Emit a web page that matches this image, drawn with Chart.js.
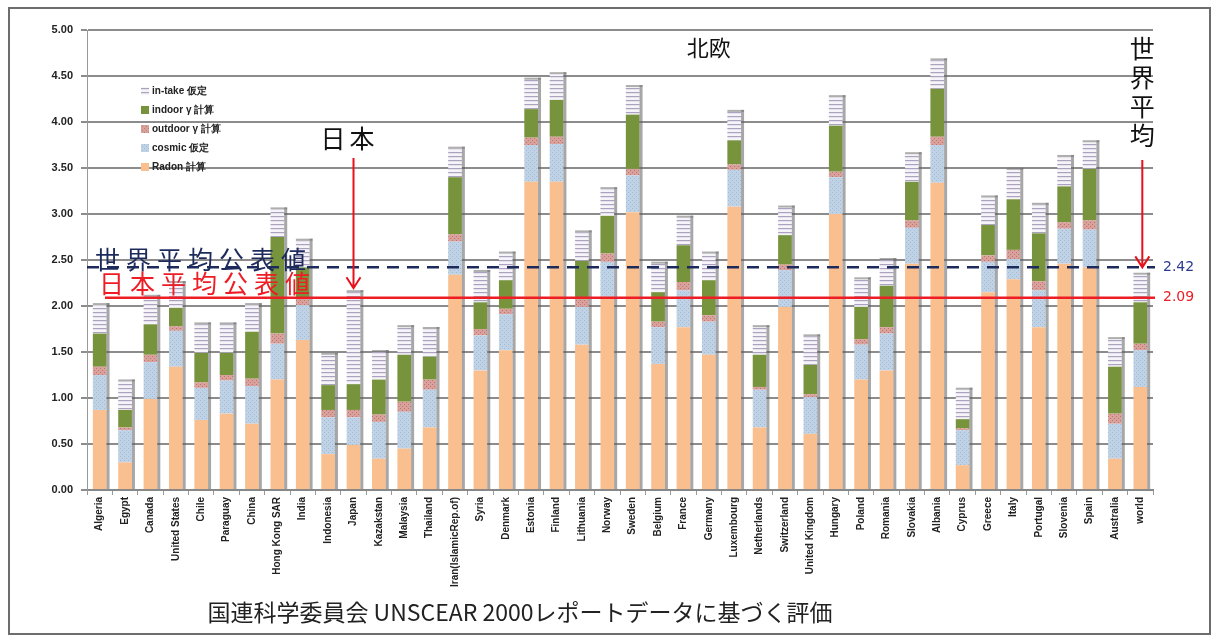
<!DOCTYPE html>
<html>
<head>
<meta charset="utf-8">
<script src="https://cdn.jsdelivr.net/npm/chart.js@4.4.1/dist/chart.umd.min.js"></script>
<style>
  body { margin: 0; background: #fff; }
  #frame { position: absolute; left: 8px; top: 7px; width: 1199px; height: 624px; border: 2px solid #6d6d6d; }
  #wrap { position: absolute; left: 0; top: 0; width: 1217px; height: 600px; }
  #caption { position: absolute; left: 0; top: 594px; width: 1040px; text-align: center;
    font: 23px "Noto Sans CJK JP", sans-serif; color: #222; }
</style>
</head>
<body>
<div id="frame"></div>
<div id="wrap"><canvas id="chart"></canvas></div>
<div id="caption">国連科学委員会 UNSCEAR 2000レポートデータに基づく評価</div>
<script>
// annual dose by source (mSv)
const countries = ["Algeria", "Egypt", "Canada", "United States", "Chile", "Paraguay", "China",
  "Hong Kong SAR", "India", "Indonesia", "Japan", "Kazakstan", "Malaysia", "Thailand",
  "Iran(IslamicRep.of)", "Syria", "Denmark", "Estonia", "Finland", "Lithuania", "Norway",
  "Sweden", "Belgium", "France", "Germany", "Luxembourg", "Netherlands", "Switzerland",
  "United Kingdom", "Hungary", "Poland", "Romania", "Slovakia", "Albania", "Cyprus",
  "Greece", "Italy", "Portugal", "Slovenia", "Spain", "Australia", "world"];

const radon = [0.87, 0.30, 0.99, 1.34, 0.76, 0.83, 0.72, 1.20, 1.63, 0.39, 0.49, 0.34, 0.45, 0.68,
  2.34, 1.30, 1.52, 3.35, 3.35, 1.58, 2.10, 3.02, 1.37, 1.77, 1.47, 3.08, 0.68, 1.99,
  0.61, 3.00, 1.20, 1.30, 2.46, 3.34, 0.27, 2.15, 2.29, 1.77, 2.46, 2.42, 0.34, 1.12];
const cosmic = [0.38, 0.35, 0.40, 0.39, 0.35, 0.36, 0.41, 0.39, 0.38, 0.40, 0.30, 0.40, 0.40, 0.41,
  0.36, 0.38, 0.39, 0.40, 0.41, 0.41, 0.38, 0.40, 0.40, 0.40, 0.36, 0.40, 0.41, 0.40,
  0.40, 0.40, 0.38, 0.40, 0.39, 0.41, 0.38, 0.33, 0.22, 0.40, 0.38, 0.41, 0.38, 0.40];
const outdoor = [0.09, 0.03, 0.08, 0.05, 0.06, 0.06, 0.08, 0.11, 0.08, 0.08, 0.08, 0.08, 0.11, 0.11,
  0.08, 0.07, 0.06, 0.08, 0.08, 0.08, 0.09, 0.07, 0.06, 0.09, 0.07, 0.06, 0.03, 0.06,
  0.03, 0.06, 0.06, 0.07, 0.08, 0.09, 0.02, 0.07, 0.10, 0.10, 0.07, 0.10, 0.11, 0.07];
const indoor = [0.36, 0.19, 0.33, 0.20, 0.32, 0.24, 0.51, 1.05, 0.33, 0.27, 0.28, 0.38, 0.51, 0.25,
  0.62, 0.29, 0.31, 0.31, 0.40, 0.42, 0.41, 0.59, 0.32, 0.40, 0.38, 0.26, 0.35, 0.32,
  0.32, 0.50, 0.35, 0.45, 0.42, 0.52, 0.10, 0.33, 0.55, 0.52, 0.39, 0.56, 0.51, 0.45];
const intake = [0.31, 0.31, 0.30, 0.27, 0.31, 0.31, 0.29, 0.30, 0.29, 0.33, 1.00, 0.30, 0.30, 0.30,
  0.31, 0.33, 0.29, 0.32, 0.28, 0.31, 0.29, 0.30, 0.31, 0.30, 0.29, 0.31, 0.30, 0.30,
  0.31, 0.31, 0.30, 0.28, 0.30, 0.31, 0.32, 0.30, 0.32, 0.31, 0.32, 0.29, 0.30, 0.30];

const yTicks = [0, 0.5, 1, 1.5, 2, 2.5, 3, 3.5, 4, 4.5, 5];
const worldAvg = 2.42;
const japanAvg = 2.09;

var canvas = document.getElementById("chart");
var c2d = canvas.getContext("2d");

function makePattern(bg, fg, draw) {
  var p = document.createElement("canvas");
  p.width = 4;
  p.height = 4;
  var g = p.getContext("2d");
  g.fillStyle = bg;
  g.fillRect(0, 0, 4, 4);
  g.fillStyle = fg;
  draw(g);
  return c2d.createPattern(p, "repeat");
}

var intakeFill = makePattern("#f6f4f9", "#aaa2bf", (g) => g.fillRect(0, 0, 4, 1.2));
var cosmicFill = makePattern("#bfd2e6", "#a3bad3", (g) => { g.fillRect(0, 0, 1, 1); g.fillRect(2, 2, 1, 1); });
var outdoorFill = makePattern("#d9a19c", "#c0736f", (g) => { g.fillRect(0, 0, 1, 1); g.fillRect(2, 2, 1, 1); });

var labelFont = "'Liberation Sans Narrow', 'Liberation Sans', sans-serif";
var jpFont = "'Noto Sans CJK JP', sans-serif";

function arrow(ctx, x, y1, y2) {
  ctx.save();
  ctx.strokeStyle = "#e8101a";
  ctx.lineWidth = 2;
  ctx.beginPath();
  ctx.moveTo(x, y1);
  ctx.lineTo(x, y2);
  ctx.moveTo(x - 7, y2 - 11);
  ctx.lineTo(x, y2);
  ctx.lineTo(x + 7, y2 - 11);
  ctx.stroke();
  ctx.restore();
}

var extras = {
  id: "extras",
  afterDatasetsDraw(chart) {
    var ctx = chart.ctx;
    var area = chart.chartArea;
    var xs = chart.scales.x;
    var ys = chart.scales.y;
    var last = chart.data.datasets.length - 1;

    // grey side of each column, for a bit of the 3D look
    var topMeta = chart.getDatasetMeta(last);
    var baseMeta = chart.getDatasetMeta(0);
    ctx.save();
    topMeta.data.forEach((el, i) => {
      var b = baseMeta.data[i].base;
      ctx.fillStyle = "rgba(95,95,95,0.55)";
      ctx.fillRect(el.x + el.width / 2, el.y - 2, 3, b - el.y + 2);
      ctx.fillStyle = "rgba(120,120,120,0.6)";
      ctx.fillRect(el.x - el.width / 2, el.y - 2, el.width + 3, 2);
    });
    ctx.restore();

    // published averages
    var yw = ys.getPixelForValue(worldAvg);
    var yj = ys.getPixelForValue(japanAvg);
    ctx.save();
    ctx.lineWidth = 2.5;
    ctx.strokeStyle = "#1c2a5c";
    ctx.setLineDash([12, 8]);
    ctx.beginPath();
    ctx.moveTo(area.left, yw);
    ctx.lineTo(area.right + 2, yw);
    ctx.stroke();
    ctx.setLineDash([]);
    ctx.strokeStyle = "#ee1c24";
    ctx.beginPath();
    ctx.moveTo(area.left + 18, yj);
    ctx.lineTo(area.right + 2, yj);
    ctx.stroke();

    ctx.font = "14px 'DejaVu Sans', sans-serif";
    ctx.textBaseline = "middle";
    ctx.fillStyle = "#2b3990";
    ctx.fillText(worldAvg.toFixed(2), area.right + 10, yw);
    ctx.fillStyle = "#ee1c24";
    ctx.fillText(japanAvg.toFixed(2), area.right + 10, yj);

    ctx.font = "25px " + jpFont;
    ctx.letterSpacing = "6px";
    ctx.textBaseline = "alphabetic";
    ctx.fillStyle = "#1c2a5c";
    ctx.fillText("世界平均公表値", area.left + 8, yw + 2);
    ctx.fillStyle = "#ee1c24";
    ctx.fillText("日本平均公表値", area.left + 12, yj - 5);
    ctx.letterSpacing = "0px";

    // annotations
    ctx.fillStyle = "#111";
    ctx.textAlign = "center";
    ctx.font = "22px " + jpFont;
    ctx.fillText("北欧", xs.getPixelForValue(24), 56);
    ctx.font = "25px " + jpFont;
    var jx = xs.getPixelForValue(countries.indexOf("Japan"));
    ctx.letterSpacing = "4px";
    ctx.fillText("日本", jx - 4, 148);
    ctx.letterSpacing = "0px";
    arrow(ctx, jx, 158, topMeta.data[countries.indexOf("Japan")].y - 4);

    var wi = countries.indexOf("world");
    var wx = xs.getPixelForValue(wi) + 2;
    ["世", "界", "平", "均"].forEach((ch, k) => ctx.fillText(ch, wx, 58 + k * 29));
    arrow(ctx, wx, 160, yw);

    // legend, top series first
    ctx.textAlign = "left";
    ctx.textBaseline = "middle";
    ctx.font = "bold 10px " + labelFont;
    var ds = chart.data.datasets;
    for (var k = 0; k < ds.length; k++) {
      var d = ds[last - k];
      var ly = 91 + k * 19;
      ctx.fillStyle = d.backgroundColor;
      ctx.fillRect(141, ly - 4, 8, 8);
      ctx.fillStyle = "#222";
      ctx.fillText(d.label, 152, ly);
    }
    ctx.restore();
  },
};

new Chart(canvas, {
  type: "bar",
  data: {
    labels: countries,
    datasets: [
      { label: "Radon 計算", data: radon, backgroundColor: "#f9bf8f" },
      { label: "cosmic 仮定", data: cosmic, backgroundColor: cosmicFill },
      { label: "outdoor γ 計算", data: outdoor, backgroundColor: outdoorFill },
      { label: "indoor γ 計算", data: indoor, backgroundColor: "#77933c" },
      { label: "in-take 仮定", data: intake, backgroundColor: intakeFill },
    ],
  },
  options: {
    responsive: true,
    maintainAspectRatio: false,
    animation: false,
    layout: { padding: { left: 32, right: 64, top: 30, bottom: 0 } },
    datasets: { bar: { barPercentage: 0.54, categoryPercentage: 1 } },
    plugins: { legend: { display: false }, tooltip: { enabled: false } },
    scales: {
      x: {
        stacked: true,
        afterFit: (s) => { s.height = 110; },
        grid: { drawOnChartArea: false, tickLength: 5, color: "#999" },
        border: { color: "#888", width: 2 },
        ticks: {
          autoSkip: false,
          minRotation: 90,
          maxRotation: 90,
          padding: 2,
          color: "#222",
          font: { family: labelFont, size: 10, weight: "bold" },
        },
      },
      y: {
        stacked: true,
        min: 0,
        max: 5,
        afterFit: (s) => { s.width = 55; },
        afterBuildTicks: (s) => { s.ticks = yTicks.map((v) => ({ value: v })); },
        grid: { color: "#8c8c8c", lineWidth: 2, tickLength: 6 },
        border: { color: "#999", width: 1 },
        ticks: {
          padding: 8,
          color: "#222",
          font: { family: "'Liberation Sans', sans-serif", size: 11, weight: "bold" },
          callback: (v) => Number(v).toFixed(2),
        },
      },
    },
  },
  plugins: [extras],
});
</script>
</body>
</html>
